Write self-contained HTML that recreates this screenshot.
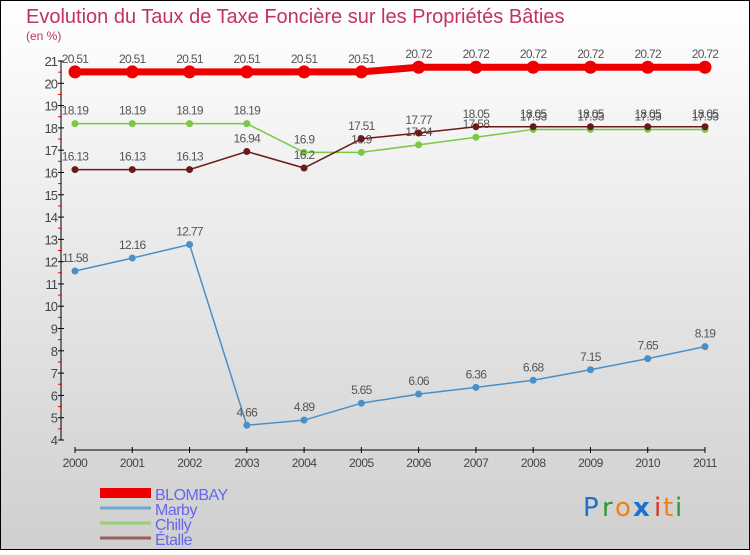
<!DOCTYPE html>
<html><head><meta charset="utf-8"><style>
html,body{margin:0;padding:0;}
body{width:750px;height:550px;overflow:hidden;font-family:"Liberation Sans","DejaVu Sans",sans-serif;}
</style></head><body>
<svg id="chart" width="750" height="550" xmlns="http://www.w3.org/2000/svg">
<defs><linearGradient id="bg" x1="0" y1="0" x2="0" y2="1"><stop offset="0" stop-color="#ffffff"/><stop offset="1" stop-color="#cfcfcf"/></linearGradient></defs>
<rect x="0.5" y="0.5" width="749" height="549" fill="url(#bg)" stroke="#000" stroke-width="1"/>
<text x="26" y="23" font-size="20" fill="#c0335f" font-family="Liberation Sans, sans-serif">Evolution du Taux de Taxe Foncière sur les Propriétés Bâties</text>
<text x="26" y="40" font-size="12" fill="#c0335f">(en %)</text>
<g id="axes"></g><g id="series"></g><g id="legend"></g>
<g font-size="26" font-family="DejaVu Sans, sans-serif">
<text x="583" y="516" fill="#1a73c9">P</text><text x="602" y="516" fill="#2a9a3a">r</text><text x="615" y="516" fill="#f08010">o</text><text x="633" y="516" fill="#1a73c9" font-weight="bold">x</text><text x="654" y="516" fill="#e03020">i</text><text x="663" y="516" fill="#f08010">t</text><text x="675" y="516" fill="#2a9a3a">i</text>
</g>
</svg>
<script>
const years=["2000","2001","2002","2003","2004","2005","2006","2007","2008","2009","2010","2011"];
const blombay=[20.51,20.51,20.51,20.51,20.51,20.51,20.72,20.72,20.72,20.72,20.72,20.72];
const marby=[11.58,12.16,12.77,4.66,4.89,5.65,6.06,6.36,6.68,7.15,7.65,8.19];
const chilly=[18.19,18.19,18.19,18.19,16.9,16.9,17.24,17.58,17.93,17.93,17.93,17.93];
const etalle=[16.13,16.13,16.13,16.94,16.2,17.51,17.77,18.05,18.05,18.05,18.05,18.05];
const yTicks=[4,5,6,7,8,9,10,11,12,13,14,15,16,17,18,19,20,21];
const NS="http://www.w3.org/2000/svg";
const x=i=>75+i*(630/11);
const y=v=>440-(v-4)*(379/17);
function mk(tag,attrs,parent){const e=document.createElementNS(NS,tag);for(const k in attrs)e.setAttribute(k,attrs[k]);parent.appendChild(e);return e;}
const axes=document.getElementById('axes');
let e=mk('line',{x1:61,y1:y(21),x2:61,y2:y(4),stroke:'#000','stroke-width':1},axes);


yTicks.forEach(t=>{
 let l=mk('line',{x1:58,y1:y(t),x2:64,y2:y(t),stroke:'#000'},axes);
 
 
 if(t<21){let m=mk('line',{x1:58,y1:y(t+0.5),x2:62,y2:y(t+0.5),stroke:'#e00'},axes);
 
 }
 let tx=mk('text',{x:57,y:y(t)+5,'text-anchor':'end','font-size':13,fill:'#444','letter-spacing':'-1'},axes);
 tx.textContent=t;
 
 
});
e=mk('line',{x1:75,y1:450,x2:705,y2:450,stroke:'#000'},axes);


years.forEach((yr,i)=>{
 let l=mk('line',{x1:x(i),y1:447,x2:x(i),y2:453,stroke:'#000'},axes);
 
 
 let tx=mk('text',{x:x(i),y:467,'text-anchor':'middle','font-size':12,fill:'#444','letter-spacing':'-0.5'},axes);
 tx.textContent=yr;
 
 
});
const ser=document.getElementById('series');
function draw(name,vals,color,w,r){
 const g=mk('g',{},ser);
 
 
 let p=mk('polyline',{points:vals.map((v,i)=>x(i)+','+y(v)).join(' '),fill:'none',stroke:color,'stroke-width':w},g);
 
 
 vals.forEach((v,i)=>{
  let c=mk('circle',{cx:x(i),cy:y(v),r:r,fill:color},g);
  
  
  let t=mk('text',{x:x(i),y:y(v)-9,'text-anchor':'middle','font-size':12,fill:'#555','letter-spacing':'-0.7'},g);
  t.textContent=String(v);
  
  
 });
}
draw('chilly',chilly,'#7ac943',1.5,3.5);
draw('etalle',etalle,'#6b1a1a',1.5,3.5);
draw('marby',marby,'#4a90c8',1.5,3.5);
draw('blombay',blombay,'#ee0000',7,6.5);
const lg=document.getElementById('legend');
const items=[["BLOMBAY","#ee0000",10],["Marby","#6fa8d0",3],["Chilly","#99d070",3],["Étalle","#9a6060",3]];
items.forEach((it,i)=>{
 const cy=493+i*15;
 let l=mk('line',{x1:100,y1:cy,x2:151,y2:cy,stroke:it[1],'stroke-width':it[2]},lg);
 
 
 let t=mk('text',{x:155,y:cy+7,'font-size':16,fill:'#6666ee','letter-spacing':'-0.5'},lg);
 t.textContent=it[0];
 
 
});
</script>
</body></html>
